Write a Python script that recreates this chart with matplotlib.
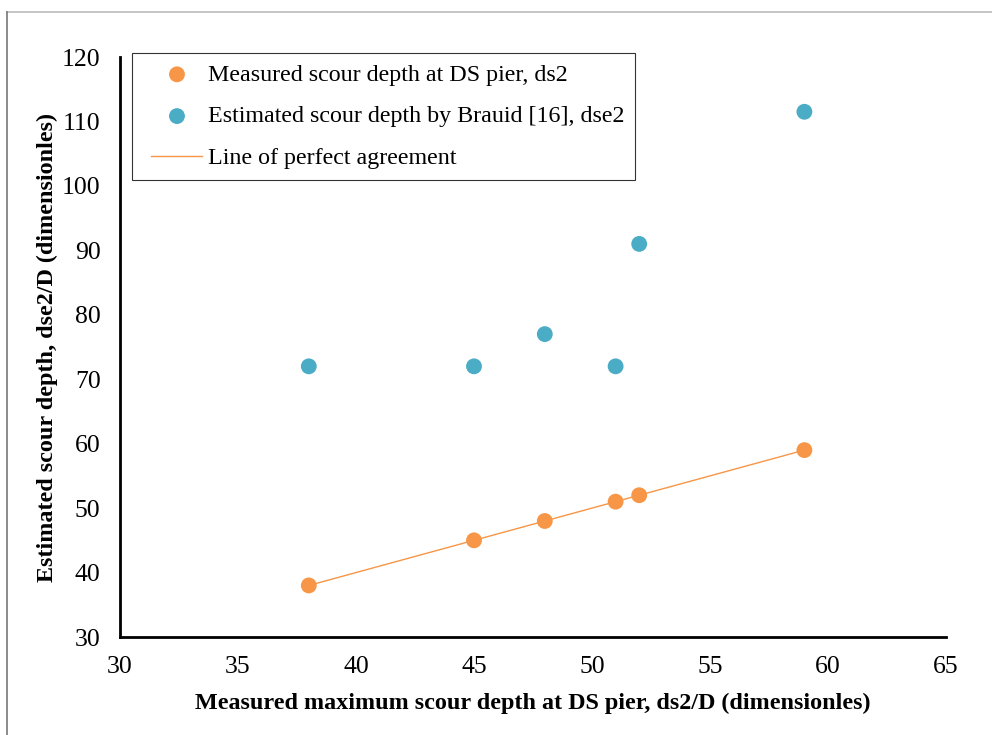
import matplotlib
matplotlib.use("Agg")
import numpy as np
import matplotlib.pyplot as plt
from matplotlib.lines import Line2D
from matplotlib.legend_handler import HandlerLine2D, HandlerPathCollection

plt.rcParams['font.family'] = ['Liberation Serif', 'DejaVu Serif']

measured = [38, 45, 48, 51, 52, 59]
ds2 = [38, 45, 48, 51, 52, 59]
dse2 = [72, 72, 77, 72, 91, 111.5]
line_x = [38, 59]
line_y = [38, 59]

x_ticks = [30, 35, 40, 45, 50, 55, 60, 65]
y_ticks = [30, 40, 50, 60, 70, 80, 90, 100, 110, 120]

orange = '#F79646'
blue = '#4BACC6'


class ShortLine(HandlerLine2D):
    def create_artists(self, legend, orig_handle, xdescent, ydescent, width, height, fontsize, trans):
        arts = super().create_artists(legend, orig_handle, xdescent, ydescent, width, height, fontsize, trans)
        for a in arts:
            xd = np.asarray(a.get_xdata(), dtype=float)
            if len(xd) >= 2:
                a.set_xdata(np.linspace(xd[0] + 6.0, xd[-1], len(xd)))
        return arts


class ShiftedScatter(HandlerPathCollection):
    def get_xdata(self, legend, xdescent, ydescent, width, height, fontsize):
        xdata, xm = super().get_xdata(legend, xdescent, ydescent, width, height, fontsize)
        return xdata, [x + 3.4 for x in xm]


fig = plt.figure(figsize=(9.92, 7.35), dpi=100)
ax = fig.add_axes([120/992, 1-637/735, (946-120)/992, (637-57)/735])

ln, = ax.plot(line_x, line_y, color=orange, lw=1.0, label='Line of perfect agreement', zorder=2)
sc1 = ax.scatter(measured, ds2, s=130, color=orange, edgecolors='none', label='Measured scour depth at DS pier, ds2', zorder=3)
sc2 = ax.scatter(measured, dse2, s=130, color=blue, edgecolors='none', label='Estimated scour depth by Brauid [16], dse2', zorder=3)

ax.set_xlim(30, 65)
ax.set_ylim(30, 120)
ax.set_xticks(x_ticks)
ax.set_yticks(y_ticks)
ax.tick_params(length=0, labelsize=18.5)
ax.tick_params(axis='x', pad=14)
ax.tick_params(axis='y', pad=14)
for s in ['top', 'right']:
    ax.spines[s].set_visible(False)
for s in ['left', 'bottom']:
    ax.spines[s].set_linewidth(2)
    ax.spines[s].set_color('black')

ax.set_xlabel('Measured maximum scour depth at DS pier, ds2/D (dimensionles)', fontsize=17.4, fontweight='bold', labelpad=10)
ax.set_ylabel('Estimated scour depth, dse2/D (dimensionles)', fontsize=17.4, fontweight='bold', labelpad=3)

leg = fig.legend([sc1, sc2, ln], [sc1.get_label(), sc2.get_label(), ln.get_label()],
                 loc='upper left', bbox_to_anchor=(132/992, 1-53/735),
                 fontsize=17.3, frameon=True, fancybox=False, borderpad=0.45,
                 labelspacing=0.83, handlelength=2.45, handletextpad=0.25,
                 borderaxespad=0, scatterpoints=1,
                 handler_map={Line2D: ShortLine(), type(sc1): ShiftedScatter()})
leg.get_frame().set_edgecolor('black')
leg.get_frame().set_linewidth(0.8)

fig.add_artist(Line2D([7/992, 1], [1-12/735, 1-12/735], transform=fig.transFigure, color='#bbbbbb', lw=1.2))
fig.add_artist(Line2D([7/992, 7/992], [0, 1-12/735], transform=fig.transFigure, color='#777777', lw=1.2))

fig.savefig('out.png', dpi=100)
